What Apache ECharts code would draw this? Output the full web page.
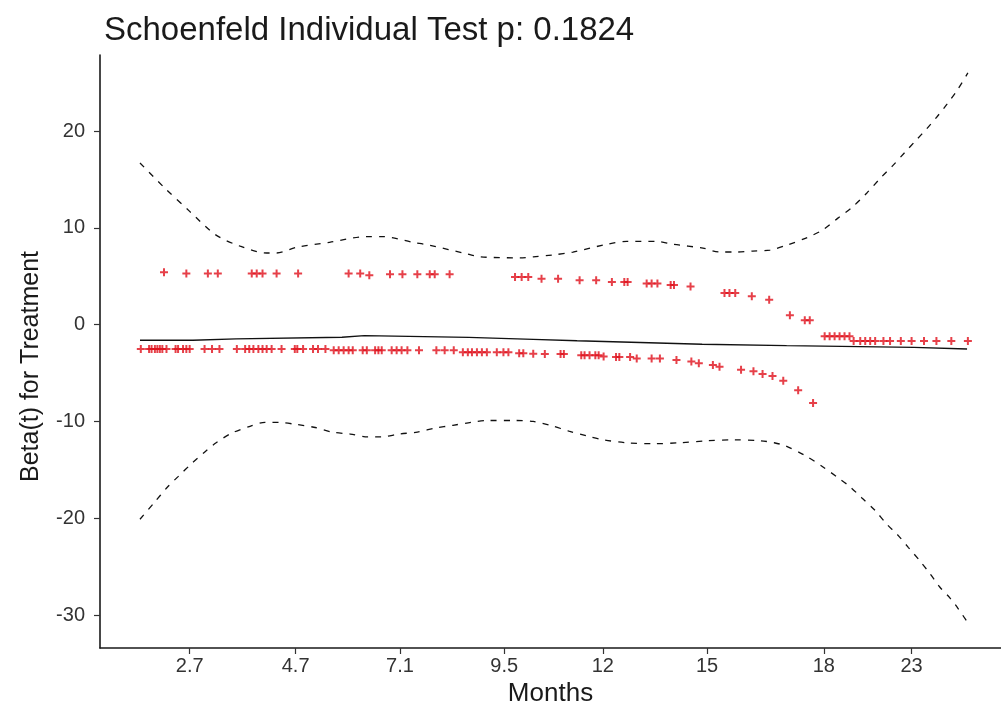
<!DOCTYPE html>
<html>
<head>
<meta charset="utf-8">
<script src="https://cdn.jsdelivr.net/npm/echarts@6/dist/echarts.min.js"></script>
<style>
  html, body { margin: 0; padding: 0; background: #fff; }
  #chart { width: 1001px; height: 704px; }
</style>
</head>
<body>
<div id="chart"></div>
<script>
// x is the transformed time scale (0 = first event, 1 = last event)
var xTickPos = [0.060, 0.188, 0.314, 0.440, 0.559, 0.685, 0.826, 0.932];
var xTickLabels = ['2.7', '4.7', '7.1', '9.5', '12', '15', '18', '23'];
var yTicks = [-30, -20, -10, 0, 10, 20];

// scaled Schoenfeld residuals, upper band
var residUpper = [
  [0.029, 5.40], [0.056, 5.27], [0.082, 5.27], [0.094, 5.27], [0.135, 5.27],
  [0.141, 5.27], [0.148, 5.27], [0.165, 5.27], [0.191, 5.27], [0.252, 5.27],
  [0.266, 5.27], [0.277, 5.09], [0.302, 5.20], [0.317, 5.20], [0.335, 5.20],
  [0.350, 5.20], [0.356, 5.20], [0.374, 5.20], [0.453, 4.93], [0.461, 4.93],
  [0.469, 4.93], [0.485, 4.75], [0.505, 4.75], [0.531, 4.58], [0.551, 4.58],
  [0.570, 4.41], [0.585, 4.41], [0.589, 4.41], [0.612, 4.26], [0.618, 4.26],
  [0.625, 4.26], [0.641, 4.10], [0.645, 4.10], [0.665, 3.93], [0.706, 3.27],
  [0.712, 3.27], [0.719, 3.27], [0.739, 2.92], [0.760, 2.58], [0.785, 0.96],
  [0.803, 0.44], [0.809, 0.44], [0.827, -1.21], [0.833, -1.21], [0.839, -1.21],
  [0.845, -1.21], [0.851, -1.21], [0.857, -1.21], [0.862, -1.68], [0.870, -1.68],
  [0.876, -1.68], [0.882, -1.68], [0.888, -1.68], [0.898, -1.68], [0.906, -1.68],
  [0.919, -1.68], [0.932, -1.68], [0.947, -1.68], [0.962, -1.68], [0.980, -1.68],
  [1.000, -1.68]
];

// scaled Schoenfeld residuals, lower band
var residLower = [
  [0.001, -2.51], [0.011, -2.51], [0.014, -2.51], [0.018, -2.51], [0.021, -2.51],
  [0.024, -2.51], [0.027, -2.51], [0.032, -2.51], [0.043, -2.51], [0.046, -2.51],
  [0.052, -2.51], [0.056, -2.51], [0.060, -2.51], [0.078, -2.51], [0.087, -2.51],
  [0.096, -2.51], [0.117, -2.51], [0.127, -2.51], [0.132, -2.51], [0.137, -2.51],
  [0.143, -2.51], [0.148, -2.51], [0.153, -2.51], [0.159, -2.51], [0.171, -2.51],
  [0.187, -2.51], [0.190, -2.51], [0.197, -2.51], [0.209, -2.51], [0.215, -2.51],
  [0.224, -2.51], [0.234, -2.65], [0.240, -2.65], [0.246, -2.65], [0.252, -2.65],
  [0.257, -2.65], [0.269, -2.65], [0.274, -2.65], [0.284, -2.65], [0.288, -2.65],
  [0.292, -2.65], [0.304, -2.65], [0.310, -2.65], [0.316, -2.65], [0.323, -2.65],
  [0.337, -2.65], [0.358, -2.65], [0.368, -2.65], [0.379, -2.65], [0.390, -2.84],
  [0.396, -2.84], [0.401, -2.84], [0.407, -2.84], [0.413, -2.84], [0.419, -2.84],
  [0.431, -2.84], [0.439, -2.84], [0.445, -2.84], [0.458, -2.95], [0.463, -2.95],
  [0.475, -3.00], [0.489, -3.03], [0.508, -3.03], [0.512, -3.03], [0.533, -3.17],
  [0.537, -3.17], [0.543, -3.17], [0.550, -3.17], [0.554, -3.17], [0.560, -3.30],
  [0.575, -3.34], [0.579, -3.34], [0.592, -3.34], [0.600, -3.50], [0.618, -3.51],
  [0.628, -3.51], [0.648, -3.65], [0.666, -3.82], [0.675, -4.00], [0.692, -4.16],
  [0.700, -4.34], [0.726, -4.65], [0.741, -4.82], [0.752, -5.09], [0.764, -5.30],
  [0.777, -5.79], [0.795, -6.79], [0.813, -8.09]
];

// beta(t) estimate
var betaLine = [
  [0.000, -1.62], [0.064, -1.47], [0.116, -1.31], [0.244, -1.14], [0.271, -1.32],
  [0.397, -1.52], [0.475, -1.67], [0.528, -1.85], [0.604, -2.02], [0.679, -2.17],
  [0.781, -2.35], [0.935, -2.51], [0.999, -2.51]
];

// confidence bands
var ciUpper = [
  [0.000, 16.7], [0.030, 14.1], [0.060, 11.7], [0.091, 9.3], [0.121, 8.1],
  [0.153, 7.4], [0.165, 7.4], [0.190, 8.0], [0.229, 8.5], [0.274, 9.1],
  [0.293, 9.1], [0.330, 8.5], [0.350, 8.2], [0.395, 7.3], [0.411, 7.0],
  [0.459, 6.9], [0.475, 7.0], [0.499, 7.2], [0.523, 7.5], [0.564, 8.3],
  [0.588, 8.6], [0.624, 8.6], [0.644, 8.3], [0.680, 7.9], [0.700, 7.5],
  [0.721, 7.5], [0.740, 7.6], [0.761, 7.7], [0.781, 8.2], [0.806, 9.0],
  [0.825, 9.8], [0.843, 11.0], [0.860, 12.1], [0.878, 13.6], [0.894, 15.1],
  [0.909, 16.4], [0.924, 17.8], [0.938, 19.1], [0.950, 20.2], [0.963, 21.5],
  [0.975, 22.8], [0.987, 24.2], [1.000, 26.0]
];
var ciLower = [
  [0.000, -20.1], [0.017, -18.4], [0.033, -16.8], [0.046, -15.7], [0.063, -14.3],
  [0.079, -13.1], [0.092, -12.2], [0.111, -11.2], [0.133, -10.5], [0.151, -10.1],
  [0.168, -10.1], [0.188, -10.3], [0.210, -10.6], [0.232, -11.1], [0.254, -11.3],
  [0.275, -11.6], [0.291, -11.6], [0.313, -11.3], [0.335, -11.1], [0.356, -10.7],
  [0.378, -10.4], [0.400, -10.1], [0.420, -9.9], [0.453, -9.9], [0.475, -10.0],
  [0.496, -10.4], [0.518, -11.0], [0.540, -11.5], [0.560, -11.9], [0.588, -12.2],
  [0.621, -12.3], [0.652, -12.2], [0.685, -12.0], [0.717, -11.9], [0.750, -12.0],
  [0.766, -12.2], [0.779, -12.5], [0.803, -13.5], [0.825, -14.7], [0.843, -15.8],
  [0.857, -16.7], [0.872, -17.9], [0.888, -19.2], [0.902, -20.6], [0.915, -21.7],
  [0.928, -23.0], [0.942, -24.4], [0.954, -25.7], [0.966, -27.1], [0.978, -28.2],
  [0.988, -29.3], [1.000, -30.8]
];

var plusSymbol = 'path://M3,0h2v3h3v2h-3v3h-2v-3h-3v-2h3z';
var labelFont = '"Liberation Sans", Arial, sans-serif';

var chart = echarts.init(document.getElementById('chart'), null, { renderer: 'canvas' });

chart.setOption({
  animation: false,
  backgroundColor: '#ffffff',
  title: {
    text: 'Schoenfeld Individual Test p: 0.1824',
    left: 99,
    top: 9,
    textStyle: {
      fontFamily: labelFont,
      fontSize: 33,
      fontWeight: 'normal',
      color: '#1a1a1a'
    }
  },
  grid: { left: 100, right: 0, top: 55, bottom: 56, containLabel: false, outerBoundsMode: 'none' },
  xAxis: {
    type: 'value',
    min: -0.0483,
    max: 1.040,
    name: 'Months',
    nameLocation: 'middle',
    nameGap: 31,
    nameTextStyle: { fontFamily: labelFont, fontSize: 26, color: '#1a1a1a' },
    axisLine: { show: true, onZero: false, lineStyle: { color: '#1a1a1a', width: 1.6 } },
    axisTick: { show: true, length: 6, customValues: xTickPos, lineStyle: { color: '#333', width: 1.2 } },
    axisLabel: {
      customValues: xTickPos,
      margin: 8,
      fontFamily: labelFont,
      fontSize: 20,
      color: '#333',
      formatter: function (v) {
        var i = xTickPos.indexOf(v);
        return i >= 0 ? xTickLabels[i] : '';
      }
    },
    splitLine: { show: false }
  },
  yAxis: {
    type: 'value',
    min: -33.4,
    max: 27.85,
    name: 'Beta(t) for Treatment',
    nameLocation: 'middle',
    nameRotate: 90,
    nameGap: 56,
    nameTextStyle: { fontFamily: labelFont, fontSize: 25, color: '#1a1a1a', padding: [0, 30, 0, 0] },
    axisLine: { show: true, onZero: false, lineStyle: { color: '#1a1a1a', width: 1.6 } },
    axisTick: { show: true, length: 6, customValues: yTicks, lineStyle: { color: '#333', width: 1.2 } },
    axisLabel: {
      customValues: yTicks,
      margin: 15,
      fontFamily: labelFont,
      fontSize: 20,
      color: '#333'
    },
    splitLine: { show: false }
  },
  series: [
    {
      name: 'residuals upper',
      type: 'scatter',
      data: residUpper,
      symbol: plusSymbol,
      symbolSize: 8,
      itemStyle: { color: '#e0101c' }
    },
    {
      name: 'residuals lower',
      type: 'scatter',
      data: residLower,
      symbol: plusSymbol,
      symbolSize: 8,
      itemStyle: { color: '#e0101c' }
    },
    {
      name: 'beta',
      type: 'line',
      data: betaLine,
      step: 'end',
      showSymbol: false,
      lineStyle: { color: '#111', width: 1.4 }
    },
    {
      name: 'upper',
      type: 'line',
      data: ciUpper,
      smooth: 0.3,
      showSymbol: false,
      lineStyle: { color: '#111', width: 1.3, type: [6, 7] }
    },
    {
      name: 'lower',
      type: 'line',
      data: ciLower,
      smooth: 0.3,
      showSymbol: false,
      lineStyle: { color: '#111', width: 1.3, type: [6, 7] }
    }
  ]
});
</script>
</body>
</html>
